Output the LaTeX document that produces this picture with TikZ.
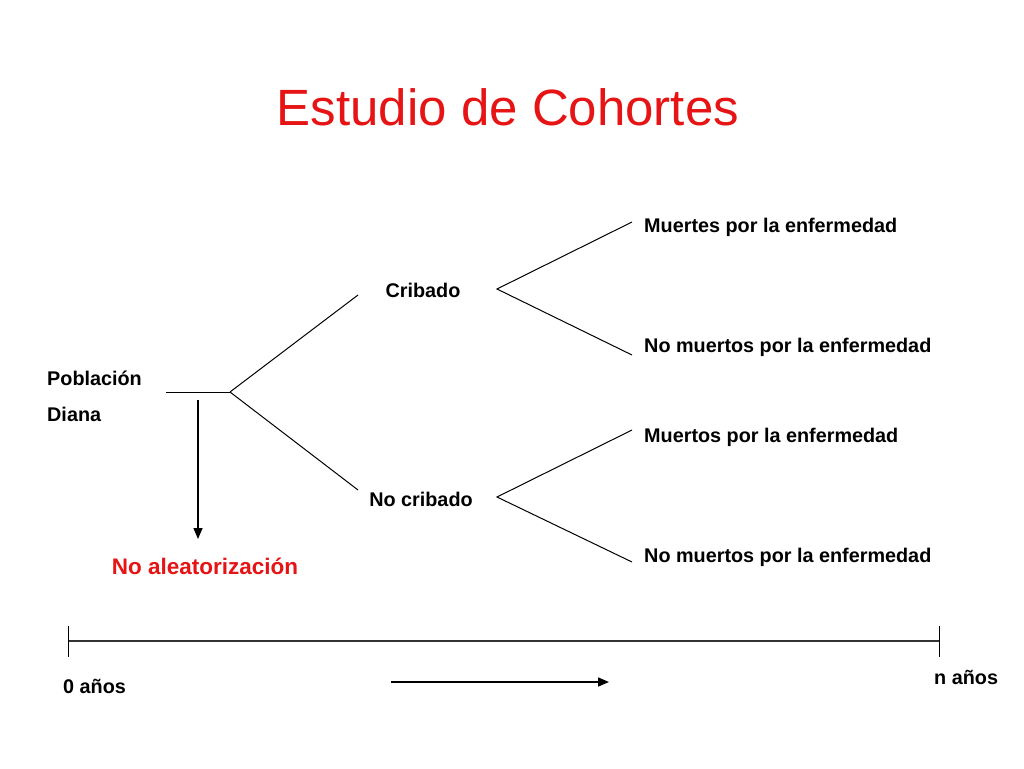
\documentclass[tikz,border=0pt]{standalone}
\usepackage{fontspec}
\setmainfont{Liberation Sans}
\usetikzlibrary{arrows.meta}
\definecolor{titlered}{RGB}{230,20,20}
\begin{document}
\begin{tikzpicture}[x=1pt,y=-1pt,
  lbl/.style={font=\fontsize{19.8}{23}\selectfont\bfseries, inner sep=0pt},
  lbll/.style={lbl, anchor=west},
  ln/.style={line width=1pt, black},
  arr/.style={line width=1.5pt, -{Triangle[length=11pt,width=9pt]}}]
\useasboundingbox (0,0) rectangle (1024,768);
\fill[white] (0,0) rectangle (1024,768);
\node[text=titlered, font=\fontsize{51}{60}\selectfont, inner sep=0pt] (title) at (508,107) {Estudio de Cohortes};
% left
\node[lbll] (pob) at (47,378) {Población};
\node[lbll] (dia) at (47,414) {Diana};
\coordinate (h0) at (166,392);
\coordinate (j0) at (230,392);
\draw[ln] (h0) -- (j0);
\coordinate (c0) at (358,295);
\coordinate (n0) at (358,490);
\draw[ln] (j0) -- (c0);
\draw[ln] (j0) -- (n0);
\node[lbl] (crib) at (423,290) {Cribado};
\node[lbl] (nocrib) at (421,499) {No cribado};
% forks
\coordinate (fc) at (497,289);
\coordinate (fn) at (497,497);
\coordinate (e1) at (632,222);
\coordinate (e2) at (632,355);
\coordinate (e3) at (632,430);
\coordinate (e4) at (632,562);
\draw[ln] (e1) -- (fc) -- (e2);
\draw[ln] (e3) -- (fn) -- (e4);
\node[lbll] (m1) at (644,227) {Muertes por la enfermedad};
\node[lbll] (m2) at (644,347) {No muertos por la enfermedad};
\node[lbll] (m3) at (644,437) {Muertos por la enfermedad};
\node[lbll] (m4) at (644,557) {No muertos por la enfermedad};
% no aleatorizacion
\coordinate (a0) at (198,400);
\node[text=titlered, font=\fontsize{22.5}{26}\selectfont\bfseries, inner sep=0pt] (noal) at (205,566) {No aleatorización};
\draw[arr] (a0) -- (198,539);
% timeline
\coordinate (t0) at (68,641);
\coordinate (t1) at (939,641);
\draw[line width=1.6pt, black!80] (t0) -- (t1);
\draw[ln] (68,626) -- (68,657);
\draw[ln] (939,626) -- (939,657);
\node[lbl, anchor=west] (y0) at (63,686) {0 años};
\node[lbl, anchor=west] (yn) at (934,677) {n años};
\coordinate (b0) at (391,682);
\coordinate (b1) at (609,682);
\draw[arr] (b0) -- (b1);
\end{tikzpicture}
\end{document}
